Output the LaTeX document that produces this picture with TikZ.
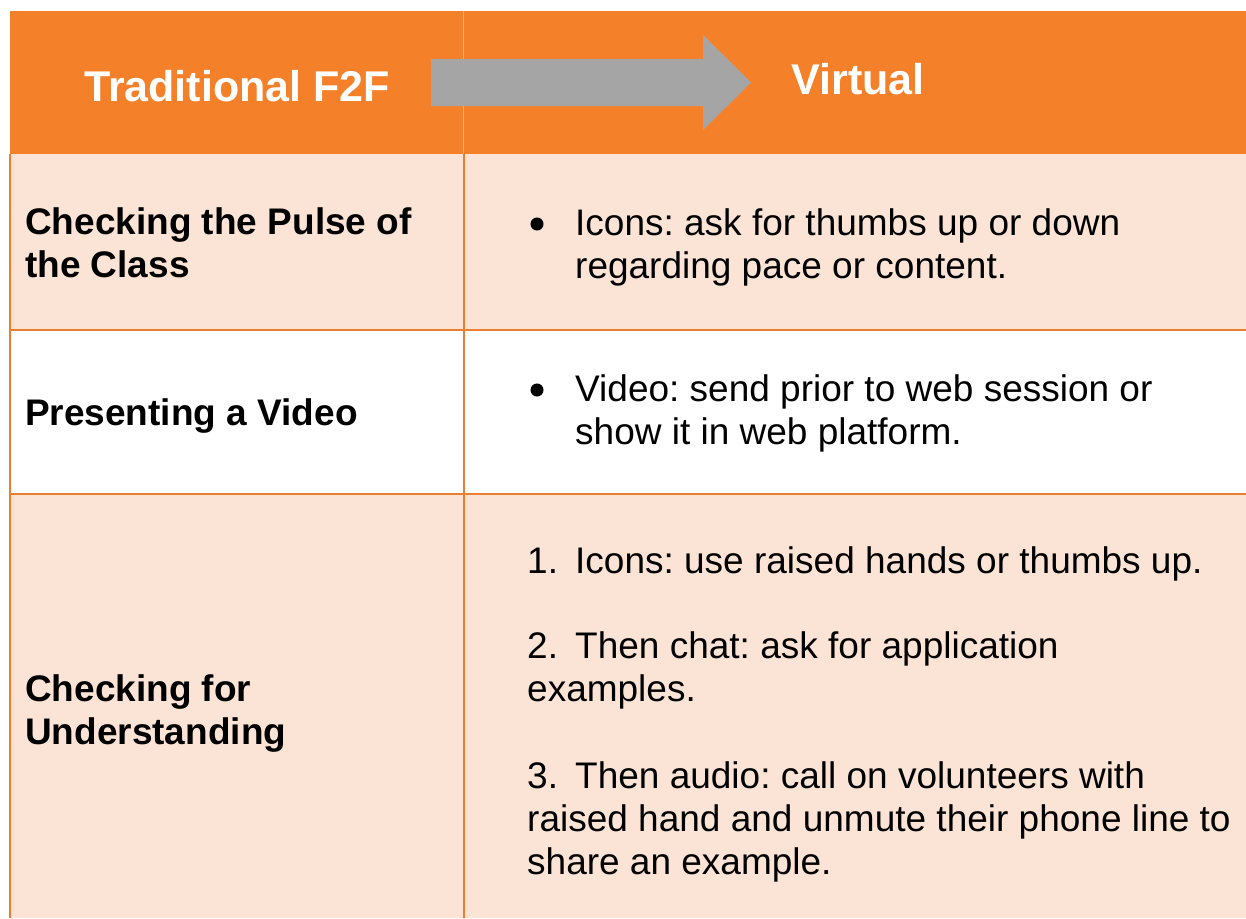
\documentclass[tikz,border=0pt]{standalone}
\usepackage{fontspec}
\setmainfont{Liberation Sans}
\frenchspacing
\definecolor{hdr}{HTML}{F4812A}
\definecolor{peach}{HTML}{FBE4D5}
\definecolor{bord}{HTML}{ED7D31}
\definecolor{hdrline}{HTML}{F9B27C}
\definecolor{arr}{HTML}{A5A5A5}
\begin{document}
\begin{tikzpicture}[x=1pt,y=-1pt,
  hd/.style={font=\fontsize{43}{48}\selectfont\bfseries, text=white, anchor=base, inner sep=0pt},
  lb/.style={font=\fontsize{37}{43}\selectfont\bfseries, anchor=base west, inner sep=0pt},
  tx/.style={font=\fontsize{37}{43}\selectfont, anchor=base west, inner sep=0pt},
  rule/.style={bord, line width=2pt},
  dot/.style={circle, fill=black, draw=black, line width=1pt, inner sep=0pt, minimum size=12pt}]
\useasboundingbox (0,0) rectangle (1246,918);
\fill[white] (0,0) rectangle (1246,918);
% cells
\fill[hdr] (10,11) rectangle (1246,154);
\fill[peach] (10,154) rectangle (1246,330);
\fill[white] (10,330) rectangle (1246,494);
\fill[peach] (10,494) rectangle (1246,918);
% grid
\draw[hdrline, line width=1pt] (463,11) -- (463,154);
\draw[rule] (10,154) -- (10,918);
\draw[rule] (464,154) -- (464,918);
\draw[rule] (10,330) -- (1246,330);
\draw[rule] (10,494) -- (1246,494);
% arrow
\fill[arr] (431,59) -- (703,59) -- (703,35) -- (751,82.5) -- (703,130) -- (703,106) -- (431,106) -- cycle;
% header
\node[hd] (h1) at (237,101) {Traditional F2F};
\node[hd] (h2) at (858,94) {Virtual};
% row 1
\node[lb] (a1) at (25,234) {Checking the Pulse of};
\node[lb] (a2) at (25,277) {the Class};
\node[dot] (b1) at (537,224) {};
\node[tx] (c1) at (575,235) {Icons: ask for thumbs up or down};
\node[tx] (c2) at (575,278) {regarding pace or content.};
% row 2
\node[lb] (a3) at (25,425) {Presenting a Video};
\node[dot] (b2) at (537,390) {};
\node[tx] (c3) at (575,401) {Video: send prior to web session or};
\node[tx] (c4) at (575,444) {show it in web platform.};
% row 3
\node[lb] (a4) at (25,701) {Checking for};
\node[lb] (a5) at (25,744) {Understanding};
\node[tx] (n1) at (527,573) {1.};
\node[tx] (d1) at (575,573) {Icons: use raised hands or thumbs up.};
\node[tx] (n2) at (527,658) {2.};
\node[tx] (d2) at (575,658) {Then chat: ask for application};
\node[tx] (d3) at (527,701) {examples.};
\node[tx] (n3) at (527,788) {3.};
\node[tx] (d4) at (575,788) {Then audio: call on volunteers with};
\node[tx] (d5) at (527,831) {raised hand and unmute their phone line to};
\node[tx] (d6) at (527,874) {share an example.};
\end{tikzpicture}
\end{document}
